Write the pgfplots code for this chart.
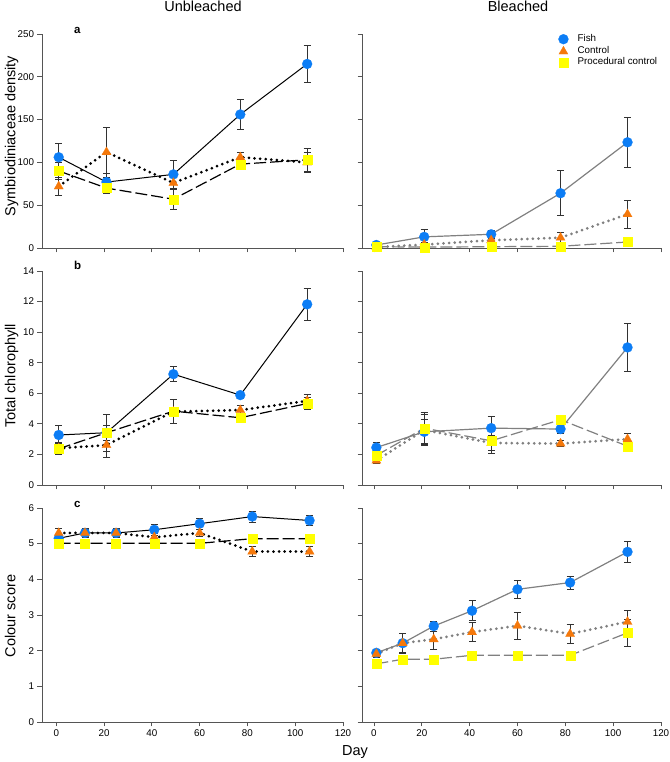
\documentclass[border=0pt]{standalone}
\usepackage{pgfplots}
\pgfplotsset{compat=1.18}
\usepackage{fontspec}
\setmainfont{Liberation Sans}
\definecolor{fishblue}{RGB}{12,125,245}
\definecolor{ctrlorange}{RGB}{245,120,10}
\definecolor{procyellow}{RGB}{255,255,0}
\definecolor{axgray}{RGB}{85,85,85}
\definecolor{lgray}{RGB}{128,128,128}
\definecolor{errgray}{RGB}{50,50,50}

\pgfplotsset{
  panel/.style={
    scale only axis, height=214pt, anchor=south west,
    axis x line*=bottom, axis y line*=left,
    axis line style={-, draw=axgray, line width=0.8pt},
    tick align=outside, major tick length=4.5pt,
    tick style={draw=axgray, line width=0.8pt},
    xtick={0,20,...,120}, xmax=120,
    clip=false,
    tick label style={font=\fontsize{9.8}{11}\selectfont, /pgf/number format/assume math mode=true},
    error bars/y dir=both, error bars/y explicit,
    error bars/error mark=-,
    error bars/error bar style={solid, draw=errgray, line width=0.8pt, line cap=butt},
    error bars/error mark options={rotate=90, solid, draw=errgray, mark size=3.5pt, line width=0.8pt},
  },
  leftpanel/.style={panel, width=301pt, xmin=-6},
  rightpanel/.style={panel, width=299pt, xmin=-5, yticklabels={}},
  fishm/.style={mark=*, mark size=5pt, mark options={solid, line width=0.2pt, fill=fishblue, draw=fishblue}},
  ctrlm/.style={mark=triangle*, mark size=5.3pt, mark options={solid, line width=0.2pt, fill=ctrlorange, draw=ctrlorange}},
  procm/.style={mark=square*, mark size=4.5pt, mark options={solid, line width=0.2pt, fill=procyellow, draw=procyellow}},
  fishL/.style={fishm, draw=black, line width=1pt, solid},
  ctrlL/.style={ctrlm, draw=black, line width=3pt, dash pattern=on 0pt off 5.6pt, line cap=round},
  procL/.style={procm, draw=black, line width=1.2pt, dash pattern=on 12pt off 4pt},
  fishR/.style={fishm, draw=lgray, line width=1.2pt, solid},
  ctrlR/.style={ctrlm, draw=lgray, line width=3pt, dash pattern=on 0pt off 5.6pt, line cap=round},
  procR/.style={procm, draw=lgray, line width=1.2pt, dash pattern=on 12pt off 4pt},
}

\begin{document}
\begin{tikzpicture}[x=1pt,y=1pt]
\useasboundingbox (0,0) rectangle (669,762);

% ---------------- Panel a, unbleached
\begin{axis}[leftpanel, at={(42pt,514pt)}, ymin=0, ymax=250, ytick={0,50,...,250}, xticklabels={}]
\addplot[fishL] coordinates {(1,106) +- (0,16) (21,77) +- (0,10) (49,86) +- (0,16) (77,156) +- (0,17.5) (105,215) +- (0,22)};
\addplot[ctrlL] coordinates {(1,72) +- (0,10) (21,112) +- (0,29) (49,76) +- (0,8) (77,106) +- (0,6) (105,100) +- (0,12)};
\addplot[procL] coordinates {(1,90) +- (0,10) (21,70) +- (0,6) (49,57) +- (0,12) (77,98) +- (0,5) (105,103) +- (0,13)};
\end{axis}

% ---------------- Panel a, bleached
\begin{axis}[rightpanel, at={(362pt,514pt)}, ymin=0, ymax=250, ytick={0,50,...,250}, xticklabels={},
  legend cell align=left,
  legend image code/.code={\path (0pt,0pt) (21pt,0pt); \draw[#1] plot coordinates {(7pt,0pt)};},
  legend style={at={(0.649,1.0)}, anchor=north west, draw=none, fill=none, inner sep=0pt,
    font=\fontsize{9.8}{11}\selectfont, row sep=2pt,
    nodes={inner sep=0pt, text height=7pt, text depth=2pt}}]
\addlegendimage{only marks, fishm}\addlegendentry{Fish}
\addlegendimage{only marks, ctrlm}\addlegendentry{Control}
\addlegendimage{only marks, procm}\addlegendentry{Procedural control}
\addplot[fishR] coordinates {(1,3.5) +- (0,1) (21,13) +- (0,9) (49,16) +- (0,5) (78,64) +- (0,26.5) (106,123.5) +- (0,29.5)};
\addplot[ctrlR] coordinates {(1,1) +- (0,0.5) (21,4) +- (0,2) (49,9) +- (0,3) (78,12) +- (0,6) (106,39.5) +- (0,16.5)};
\addplot[procR] coordinates {(1,1.5) +- (0,0.5) (21,1) +- (0,0.5) (49,1.5) +- (0,1) (78,2) +- (0,1) (106,7) +- (0,2)};
\end{axis}

% ---------------- Panel b, unbleached
\begin{axis}[leftpanel, at={(42pt,277pt)}, ymin=0, ymax=14, ytick={0,2,...,14}, xticklabels={}]
\addplot[fishL] coordinates {(1,3.27) +- (0,0.6) (21,3.42) +- (0,0.5) (49,7.25) +- (0,0.48) (77,5.88) +- (0,0.2) (105,11.82) +- (0,1.06)};
\addplot[ctrlL] coordinates {(1,2.4) +- (0,0.4) (21,2.61) +- (0,0.8) (49,4.8) +- (0,0.3) (77,4.9) +- (0,0.3) (105,5.5) +- (0,0.4)};
\addplot[procL] coordinates {(1,2.37) +- (0,0.35) (21,3.42) +- (0,1.2) (49,4.83) +- (0,0.8) (77,4.4) +- (0,0.25) (105,5.33) +- (0,0.4)};
\end{axis}

% ---------------- Panel b, bleached
\begin{axis}[rightpanel, at={(362pt,277pt)}, ymin=0, ymax=14, ytick={0,2,...,14}, xticklabels={}]
\addplot[fishR] coordinates {(1,2.45) +- (0,0.33) (21,3.48) +- (0,0.8) (49,3.72) +- (0,0.76) (78,3.66) +- (0,0.3) (106,9.0) +- (0,1.6)};
\addplot[ctrlR] coordinates {(1,1.6) +- (0,0.2) (21,3.6) +- (0,1.0) (49,2.75) +- (0,0.5) (78,2.71) +- (0,0.2) (106,3.0) +- (0,0.4)};
\addplot[procR] coordinates {(1,1.93) +- (0,0.3) (21,3.72) +- (0,1.0) (49,2.89) +- (0,0.82) (78,4.27) +- (0,0.2) (106,2.54) +- (0,0.37)};
\end{axis}

% ---------------- Panel c, unbleached
\begin{axis}[leftpanel, at={(42pt,40pt)}, ymin=0, ymax=6, ytick={0,1,...,6}]
\addplot[fishL] coordinates {(1,5.15) +- (0,0.1) (12,5.3) +- (0,0.12) (25,5.3) +- (0,0.12) (41,5.39) +- (0,0.15) (60,5.56) +- (0,0.15) (82,5.76) +- (0,0.15) (106,5.65) +- (0,0.15)};
\addplot[ctrlL] coordinates {(1,5.3) +- (0,0.12) (12,5.3) +- (0,0.1) (25,5.3) +- (0,0.1) (41,5.18) +- (0,0.1) (60,5.3) +- (0,0.1) (82,4.78) +- (0,0.15) (106,4.78) +- (0,0.15)};
\addplot[procL] coordinates {(1,5.01) +- (0,0.05) (12,5.01) +- (0,0.05) (25,5.01) +- (0,0.05) (41,5.01) +- (0,0.05) (60,5.01) +- (0,0.05) (82,5.14) +- (0,0.12) (106,5.14) +- (0,0.12)};
\end{axis}

% ---------------- Panel c, bleached
\begin{axis}[rightpanel, at={(362pt,40pt)}, ymin=0, ymax=6, ytick={0,1,...,6}]
\addplot[fishR] coordinates {(1,1.94) +- (0,0.07) (12,2.21) +- (0,0.28) (25,2.69) +- (0,0.14) (41,3.12) +- (0,0.28) (60,3.72) +- (0,0.25) (82,3.91) +- (0,0.18) (106,4.77) +- (0,0.29)};
\addplot[ctrlR] coordinates {(1,1.91) +- (0,0.1) (12,2.21) +- (0,0.27) (25,2.32) +- (0,0.28) (41,2.52) +- (0,0.27) (60,2.70) +- (0,0.38) (82,2.47) +- (0,0.27) (106,2.81) +- (0,0.31)};
\addplot[procR] coordinates {(1,1.63) +- (0,0.05) (12,1.76) +- (0,0.05) (25,1.76) +- (0,0.05) (41,1.87) +- (0,0.05) (60,1.87) +- (0,0.05) (82,1.87) +- (0,0.12) (106,2.5) +- (0,0.37)};
\end{axis}

% ---------------- Texts
\node[anchor=base, font=\fontsize{14.5}{16}\selectfont] at (203,750) {Unbleached};
\node[anchor=base, font=\fontsize{14.5}{16}\selectfont] at (518,750) {Bleached};
\node[anchor=base west, font=\bfseries\fontsize{11.5}{12}\selectfont] at (70.5,728.7) {a};
\node[anchor=base west, font=\bfseries\fontsize{11.5}{12}\selectfont] at (70.5,492) {b};
\node[anchor=base west, font=\bfseries\fontsize{11.5}{12}\selectfont] at (70.5,254.7) {c};
\node[rotate=90, anchor=base, font=\fontsize{14.5}{16}\selectfont] at (15.5,626) {Symbiodiniaceae density};
\node[rotate=90, anchor=base, font=\fontsize{14.5}{16}\selectfont] at (15.5,386) {Total chlorophyll};
\node[rotate=90, anchor=base, font=\fontsize{14.5}{16}\selectfont] at (15.5,146) {Colour score};
\node[anchor=base, font=\fontsize{14.5}{16}\selectfont] at (355,6) {Day};
\end{tikzpicture}
\end{document}
